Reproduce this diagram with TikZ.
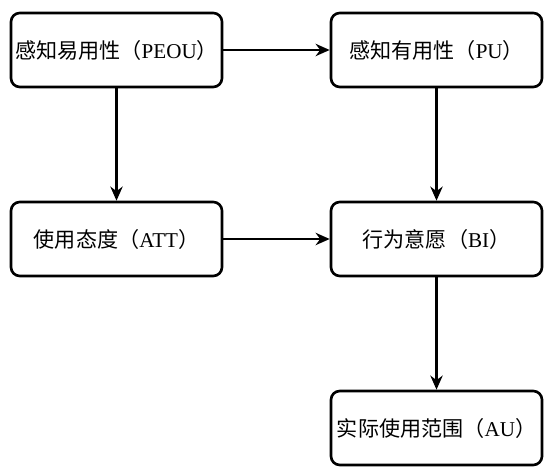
\documentclass[tikz,border=0pt]{standalone}
\usepackage{fontspec}
\setmainfont{Liberation Serif}
\newfontfamily\cjk{Noto Sans CJK SC}
\usepackage{tikz}
\usetikzlibrary{arrows.meta, positioning}
\tikzset{
  tambox/.style={
    rectangle, rounded corners=5pt,
    minimum width=4.22cm, minimum height=1.48cm,
    inner sep=0pt, text centered,
    font=\fontsize{12}{14}\selectfont,
    draw=black, line width=1.5pt, fill=white, text=black
  },
  tamarrow/.style={-{Stealth[length=8pt,width=7pt]}, line width=1.5pt, color=black},
}
\newcommand{\tamlabel}[2]{{\cjk #1（}#2{\cjk ）}}

\begin{document}
\begin{tikzpicture}
    \useasboundingbox (0,0) rectangle (10.98,9.36);
    \node[tambox](peou)at(2.33,8.36){\tamlabel{感知易用性}{PEOU}};
    \node[tambox](pu)  at(8.73,8.36){\tamlabel{感知有用性}{PU}};
    \node[tambox](att) at(2.33,4.58){\tamlabel{使用态度}{ATT}};
    \node[tambox](bi)  at(8.73,4.58){\tamlabel{行为意愿}{BI}};
    \node[tambox](au)  at(8.73,0.80){\tamlabel{实际使用范围}{AU}};
    \draw[tamarrow](peou.east)--(pu.west);
    \draw[tamarrow](peou.south)--(att.north);
    \draw[tamarrow](pu.south)--(bi.north);
    \draw[tamarrow](att.east)--(bi.west);
    \draw[tamarrow](bi.south)--(au.north);
  \end{tikzpicture}
\end{document}
